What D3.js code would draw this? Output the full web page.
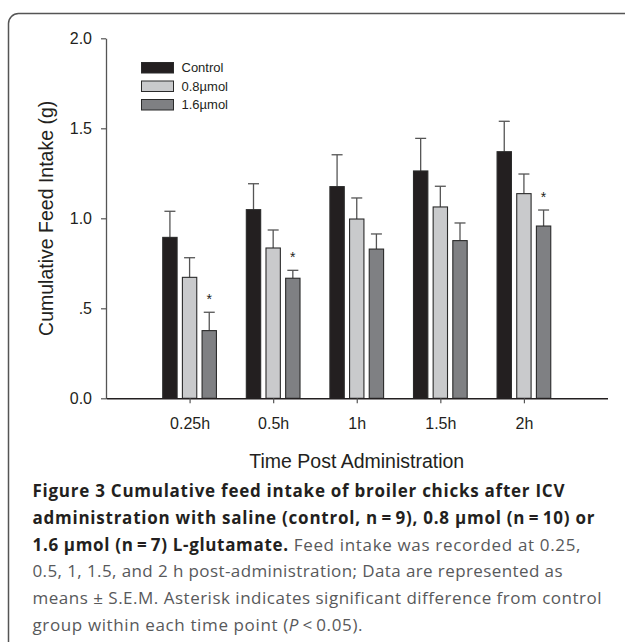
<!DOCTYPE html>
<html>
<head>
<meta charset="utf-8">
<script src="https://cdn.jsdelivr.net/npm/d3@7"></script>
<style>
  html, body { margin: 0; padding: 0; background: #fff; }
  svg { display: block; }
</style>
</head>
<body>
<svg id="chart" width="625" height="642"></svg>
<script>
// ---- data ----
const categories = ["0.25h", "0.5h", "1h", "1.5h", "2h"];
const seriesNames = ["Control", "0.8\u00b5mol", "1.6\u00b5mol"];
const controlMeans = [0.894, 1.048, 1.176, 1.263, 1.370];
const controlSem   = [0.145, 0.144, 0.177, 0.181, 0.169];
const lowMeans     = [0.672, 0.835, 0.996, 1.063, 1.137];
const lowSem       = [0.109, 0.100, 0.117, 0.115, 0.109];
const highMeans    = [0.376, 0.667, 0.829, 0.876, 0.957];
const highSem      = [0.102, 0.044, 0.084, 0.098, 0.089];
const highSignificant = [true, true, false, false, true];
const yTickValues = [0, 0.5, 1.0, 1.5, 2.0];
const yTickLabels = ["0.0", ".5", "1.0", "1.5", "2.0"];
const seriesColors = ["#231f20", "#c9cacc", "#7f8083"];
const captionLines = [
  [{b: true, t: "Figure 3 Cumulative feed intake of broiler chicks after ICV"}],
  [{b: true, t: "administration with saline (control, n\u2009=\u20099), 0.8 \u00b5mol (n\u2009=\u200910) or"}],
  [{b: true, t: "1.6 \u00b5mol (n\u2009=\u20097) L-glutamate."}, {b: false, t: " Feed intake was recorded at 0.25,"}],
  [{b: false, t: "0.5, 1, 1.5, and 2 h post-administration; Data are represented as"}],
  [{b: false, t: "means \u00b1 S.E.M. Asterisk indicates significant difference from control"}],
  [{b: false, t: "group within each time point ("}, {b: false, i: true, t: "P"}, {b: false, t: "\u2009<\u20090.05)."}]
];
const captionWidths = [532, 562, 548, 530, 569, 330];

const series = [
  {name: seriesNames[0], means: controlMeans, sem: controlSem, sig: null},
  {name: seriesNames[1], means: lowMeans, sem: lowSem, sig: null},
  {name: seriesNames[2], means: highMeans, sem: highSem, sig: highSignificant}
];

// ---- layout ----
const svg = d3.select("#chart");
const chartFont = "Arial, 'Liberation Sans', Helvetica, sans-serif";
const ink = "#231f20";

// frame
svg.append("path")
  .attr("d", "M8.5,642 L8.5,23.5 A10,10 0 0 1 18.5,13.5 L625,13.5")
  .attr("fill", "none").attr("stroke", "#555").attr("stroke-width", 1.5);

const x = d3.scaleLinear().domain([0, 6]).range([106, 607.5]);
const y = d3.scaleLinear().domain([0, 2]).range([398.3, 38.3]);
const inner = d3.scaleBand().domain(seriesNames).range([-29.5, 29.5])
  .paddingInner(0.27).paddingOuter(0.135);

// bars
series.forEach((s, si) => {
  const g = svg.append("g");
  categories.forEach((c, ci) => {
    const cx = x(ci + 1);
    const x0 = cx + inner(s.name);
    const bw = inner.bandwidth();
    const top = y(s.means[ci]);
    const errTop = y(s.means[ci] + s.sem[ci]);
    const mid = x0 + bw / 2;
    g.append("line").attr("x1", mid).attr("x2", mid)
      .attr("y1", top).attr("y2", errTop)
      .attr("stroke", "#555").attr("stroke-width", 1.3);
    g.append("line").attr("x1", mid - 5.5).attr("x2", mid + 5.5)
      .attr("y1", errTop).attr("y2", errTop)
      .attr("stroke", "#555").attr("stroke-width", 1.3);
    g.append("rect")
      .attr("x", x0).attr("y", top)
      .attr("width", bw).attr("height", y(0) - top)
      .attr("fill", seriesColors[si]).attr("stroke", "#2a2a2a").attr("stroke-width", 1.1);
    if (s.sig && s.sig[ci]) {
      g.append("text").attr("x", mid).attr("y", errTop - 17)
        .attr("text-anchor", "middle").attr("dominant-baseline", "central")
        .attr("dy", "0.25em")
        .attr("font-family", chartFont).attr("font-size", 14).attr("fill", ink)
        .text("*");
    }
  });
});

// y axis
const yAxis = svg.append("g").attr("transform", `translate(${x(0)},0)`)
  .call(d3.axisLeft(y).tickValues(yTickValues).tickSize(5).tickSizeOuter(0).tickPadding(9)
    .tickFormat((d, i) => yTickLabels[i]));
yAxis.select(".domain").attr("stroke", "#555").attr("stroke-width", 1.3);
yAxis.selectAll(".tick line").attr("stroke", "#555").attr("stroke-width", 1.2);
yAxis.selectAll(".tick text").attr("font-family", chartFont).attr("font-size", 16).attr("fill", ink);

// x axis
const xAxis = svg.append("g").attr("transform", `translate(0,${y(0)})`)
  .call(d3.axisBottom(x).tickValues([1, 2, 3, 4, 5]).tickSize(5).tickSizeOuter(0).tickPadding(14)
    .tickFormat(d => categories[d - 1]));
xAxis.select(".domain").attr("stroke", ink).attr("stroke-width", 1.4);
xAxis.selectAll(".tick line").attr("stroke", "#555").attr("stroke-width", 1.2);
xAxis.selectAll(".tick text").attr("font-family", chartFont).attr("font-size", 16).attr("fill", ink);

// axis titles
svg.append("text").attr("x", x(3)).attr("y", 467.5).attr("text-anchor", "middle")
  .attr("font-family", chartFont).attr("font-size", 19.5).attr("fill", ink)
  .text("Time Post Administration");
svg.append("text").attr("transform", `translate(52.5,${(y(0) + y(2)) / 2}) rotate(-90)`)
  .attr("text-anchor", "middle")
  .attr("font-family", chartFont).attr("font-size", 19.5).attr("fill", ink)
  .text("Cumulative Feed Intake (g)");

// legend
const legend = svg.append("g");
seriesNames.forEach((n, i) => {
  const ly = 62.5 + i * 18.5;
  legend.append("rect").attr("x", 141.5).attr("y", ly).attr("width", 32).attr("height", 10.5)
    .attr("fill", seriesColors[i]).attr("stroke", "#2a2a2a").attr("stroke-width", 1);
  legend.append("text").attr("x", 181.5).attr("y", ly + 5.25).attr("dy", "0.36em")
    .attr("font-family", chartFont).attr("font-size", 13).attr("fill", ink).text(n);
});

// caption
const cap = svg.append("g");
captionLines.forEach((parts, li) => {
  const t = cap.append("text").attr("x", 32.5).attr("y", 497.3 + li * 26.7)
    .attr("font-family", "'Open Sans', 'Noto Sans', sans-serif").attr("font-size", 17);
  parts.forEach(p => {
    t.append("tspan").attr("font-weight", p.b ? 700 : 400)
      .attr("font-style", p.i ? "italic" : "normal")
      .attr("fill", p.b ? ink : "#58595b").text(p.t);
  });
  const target = captionWidths[li];
  const natural = t.node().getComputedTextLength();
  const nChars = parts.map(p => p.t).join("").length;
  if (natural > target) {
    t.attr("textLength", target).attr("lengthAdjust", "spacingAndGlyphs");
  } else if (nChars > 1) {
    t.attr("letter-spacing", (target - natural) / (nChars - 1));
  }
});
</script>
</body>
</html>
